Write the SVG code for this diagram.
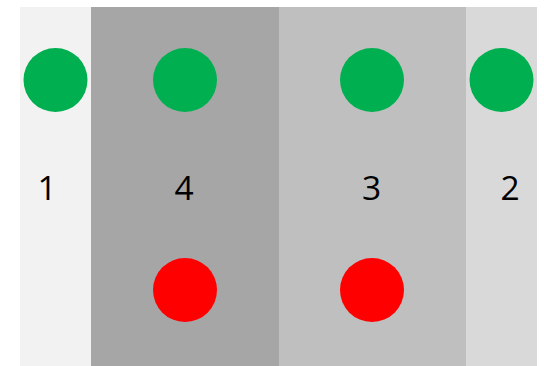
<svg xmlns="http://www.w3.org/2000/svg" width="544" height="366" viewBox="0 0 544 366">
<style>
.g{fill:#00b050}
.r{fill:#ff0000}
.t{font-family:"Open Sans","Liberation Sans",sans-serif;font-size:33.5px;fill:#000;text-anchor:middle}
</style>
<rect width="544" height="366" fill="#fff"/>
<g id="col1"><rect x="20" y="7" width="71" height="359" fill="#f2f2f2"/></g>
<g id="col4"><rect x="91" y="7" width="188" height="359" fill="#a6a6a6"/></g>
<g id="col3"><rect x="279" y="7" width="187" height="359" fill="#bfbfbf"/></g>
<g id="col2"><rect x="466" y="7" width="71" height="359" fill="#d9d9d9"/></g>
<g id="g1"><circle class="g" cx="55.5" cy="80" r="32"/></g>
<g id="g4"><circle class="g" cx="185" cy="80" r="32"/></g>
<g id="g3"><circle class="g" cx="372" cy="80" r="32"/></g>
<g id="g2"><circle class="g" cx="501.5" cy="80" r="32"/></g>
<g id="r4"><circle class="r" cx="185" cy="290" r="32"/></g>
<g id="r3"><circle class="r" cx="372" cy="290" r="32"/></g>
<g id="labels">
<text class="t" x="47" y="200">1</text>
<text class="t" x="184" y="200">4</text>
<text class="t" x="371.5" y="200">3</text>
<text class="t" x="510" y="200">2</text>
</g>
<g id="connectors"/>
</svg>
